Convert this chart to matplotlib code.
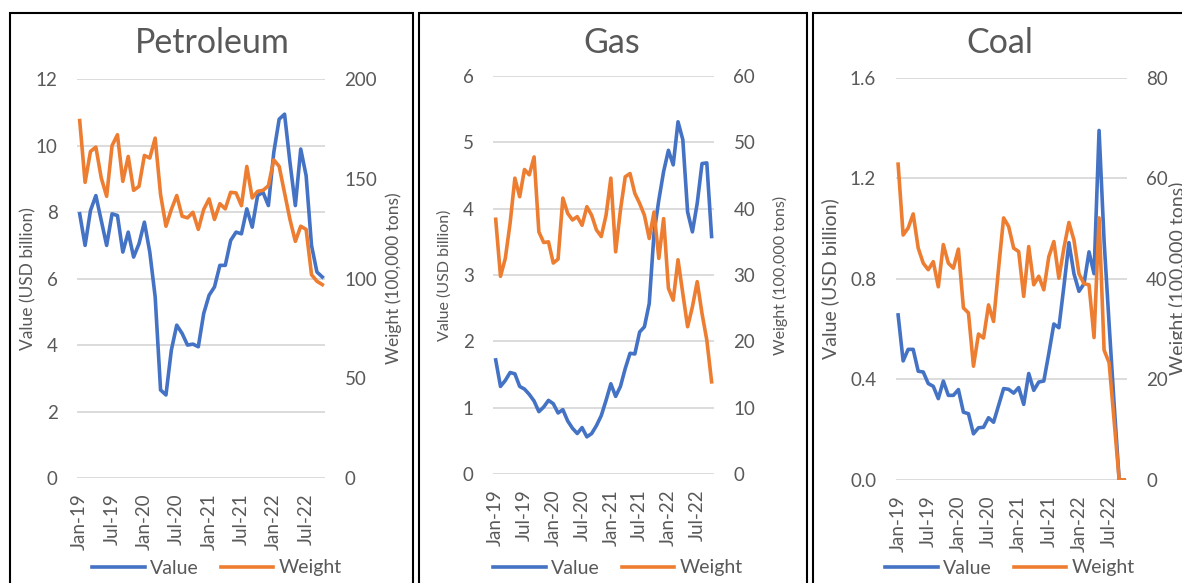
import numpy as np
import matplotlib
matplotlib.use("Agg")
import matplotlib.pyplot as plt
from matplotlib.patches import Rectangle

plt.rcParams['font.family'] = ['Lato', 'DejaVu Sans']

# monthly, Jan-19 .. Oct-22
months = list(range(46))
tick_pos = [0, 6, 12, 18, 24, 30, 36, 42]
tick_labels = ["Jan-19", "Jul-19", "Jan-20", "Jul-20", "Jan-21", "Jul-21", "Jan-22", "Jul-22"]

pet_value = [7.95, 7.0, 8.05, 8.5, 7.75, 7.0, 7.95, 7.9, 6.8, 7.4,
             6.65, 7.05, 7.7, 6.8, 5.45, 2.65, 2.5, 3.85, 4.6, 4.35,
             4.0, 4.03, 3.95, 4.95, 5.5, 5.75, 6.4, 6.4, 7.15, 7.4,
             7.35, 8.1, 7.55, 8.5, 8.6, 8.2, 9.8, 10.8, 10.95, 9.5,
             8.2, 9.9, 9.1, 7.0, 6.2, 6.05]
pet_weight = [179.3, 148.3, 163.8, 166, 150.5, 141.3, 166.7, 172.2, 148.8, 161.3,
              144.3, 146.3, 161.8, 160.5, 170.5, 142.2, 126.3, 134.7, 141.7, 131.3,
              130.5, 133.3, 124.7, 134.7, 140, 129.7, 137.6, 135, 143.3, 143,
              136.6, 156.3, 140.5, 143.8, 144.3, 146.6, 159.6, 156.3, 143, 129.7,
              118.7, 126.3, 124.7, 102, 98.7, 97]

gas_value = [1.72, 1.32, 1.41, 1.53, 1.51, 1.32, 1.28, 1.20, 1.10, 0.94,
             1.01, 1.11, 1.06, 0.92, 0.97, 0.80, 0.69, 0.61, 0.70, 0.56,
             0.61, 0.73, 0.88, 1.11, 1.36, 1.17, 1.32, 1.59, 1.82, 1.81,
             2.14, 2.22, 2.57, 3.63, 4.13, 4.56, 4.88, 4.66, 5.31, 5.04,
             3.95, 3.65, 4.08, 4.68, 4.69, 3.58]
gas_weight = [38.4, 29.8, 32.5, 37.8, 44.6, 41.8, 45.9, 45.1, 47.8, 36.5,
              34.9, 35.0, 31.8, 32.4, 41.6, 39.3, 38.3, 38.8, 37.5, 40.3,
              39.0, 36.8, 35.8, 39.0, 44.6, 33.5, 39.8, 44.8, 45.3, 42.3,
              40.8, 39.0, 35.5, 39.5, 32.5, 38.5, 28.0, 26.2, 32.3, 27.2,
              22.2, 25.2, 29.0, 24.2, 20.2, 13.9]

coal_value = [0.656, 0.473, 0.519, 0.519, 0.432, 0.429, 0.383, 0.372, 0.323, 0.393,
              0.336, 0.336, 0.359, 0.269, 0.263, 0.183, 0.207, 0.209, 0.247, 0.229,
              0.296, 0.363, 0.36, 0.345, 0.367, 0.30, 0.423, 0.356, 0.389, 0.393,
              0.503, 0.62, 0.605, 0.77, 0.944, 0.82, 0.75, 0.78, 0.907, 0.82,
              1.39, 0.95, 0.62, 0.30, 0.0, 0.0]
coal_weight = [62.8, 48.7, 50.1, 52.9, 46.1, 43.1, 41.8, 43.4, 38.4, 46.8,
               43.1, 42.1, 45.9, 34.2, 33.2, 22.6, 29.0, 28.2, 34.8, 31.5,
               42.1, 52.1, 50.4, 46.1, 45.4, 36.5, 46.4, 38.8, 40.5, 37.8,
               44.4, 47.4, 40.1, 46.1, 51.2, 47.7, 41.0, 39.0, 38.8, 28.3,
               52.1, 25.8, 23.3, 11.7, 0, 0]

BLUE = "#4472C4"
ORANGE = "#ED7D31"
TXT = "#595959"
GRID = "#D9D9D9"

W, H = 1182, 583
fig = plt.figure(figsize=(W / 100, H / 100), dpi=100)

# panels: name, values, weights, left ticks, right ticks, left fmt,
#   plot box in pixels (x0, x1, ytop, ybot), title x, ylabel x's, label size, legend x, frame x
panels = [
    ("Petroleum", pet_value, pet_weight, np.arange(0, 13, 2), np.arange(0, 201, 50), "{:.0f}",
     (77, 325, 79.3, 478), 212, 28.5, 394, 12.5, 217, (10, 413)),
    ("Gas", gas_value, gas_weight, np.arange(0, 7, 1), np.arange(0, 61, 10), "{:.0f}",
     (493.3, 714, 76, 474), 612, 445, 780, 11.5, 618, (419.3, 806.7)),
    ("Coal", coal_value, coal_weight, np.arange(0, 1.61, 0.4), np.arange(0, 81, 20), "{:.1f}",
     (895.6, 1126.7, 77.7, 479.8), 1000, 830, 1178, 14, 1010, (812.7, 1195)),
]

for (name, val, wt, lt, rt, lfmt, box, tx, lx, rx, lsize, legx, frame) in panels:
    x0, x1, yt, yb = box
    ax = fig.add_axes([x0 / W, 1 - yb / H, (x1 - x0) / W, (yb - yt) / H])
    ax2 = ax.twinx()

    l1, = ax.plot(months, val, color=BLUE, lw=2.6, solid_joinstyle="round", label="Value", zorder=3)
    l2, = ax2.plot(months, wt, color=ORANGE, lw=2.6, solid_joinstyle="round", label="Weight", zorder=3)

    ax.set_xlim(-0.5, 45.5)
    ax.set_ylim(lt[0], lt[-1])
    ax2.set_ylim(rt[0], rt[-1])
    ax.set_yticks(lt)
    ax.set_yticklabels([lfmt.format(v) for v in lt])
    ax2.set_yticks(rt)
    ax.set_xticks(tick_pos)
    ax.set_xticklabels(tick_labels, rotation=90)

    ax.grid(axis="y", color=GRID, lw=1.3)
    ax.set_axisbelow(True)
    for a in (ax, ax2):
        for s in a.spines.values():
            s.set_visible(False)
        a.tick_params(length=0, labelsize=13.5, colors=TXT)
    ax.tick_params(axis="y", pad=14)
    ax2.tick_params(axis="y", pad=14)
    ax.tick_params(axis="x", pad=11)

    fig.text(tx / W, 1 - 53 / H, name, ha="center", va="baseline", fontsize=24.5, color=TXT)
    cy = 1 - (yt + yb) / 2 / H
    fig.text(lx / W, cy, "Value (USD billion)", rotation=90, ha="center", va="center",
             fontsize=lsize, color=TXT)
    fig.text(rx / W, cy, "Weight (100,000 tons)", rotation=90, ha="center", va="center",
             fontsize=lsize, color=TXT)

    ax.legend(handles=[l1, l2], loc="center", bbox_to_anchor=(legx / W, 1 - 568 / H),
              bbox_transform=fig.transFigure, ncol=2, frameon=False, fontsize=14,
              handlelength=2.7, handletextpad=0.3, columnspacing=1.1, labelcolor=TXT)

    fx0, fx1 = frame
    fig.patches.append(Rectangle((fx0 / W, -0.05), (fx1 - fx0) / W, 1.05 - 12.7 / H,
                                 transform=fig.transFigure, fill=False,
                                 edgecolor="black", lw=1.5, zorder=10))

fig.savefig("out.png", dpi=100)
